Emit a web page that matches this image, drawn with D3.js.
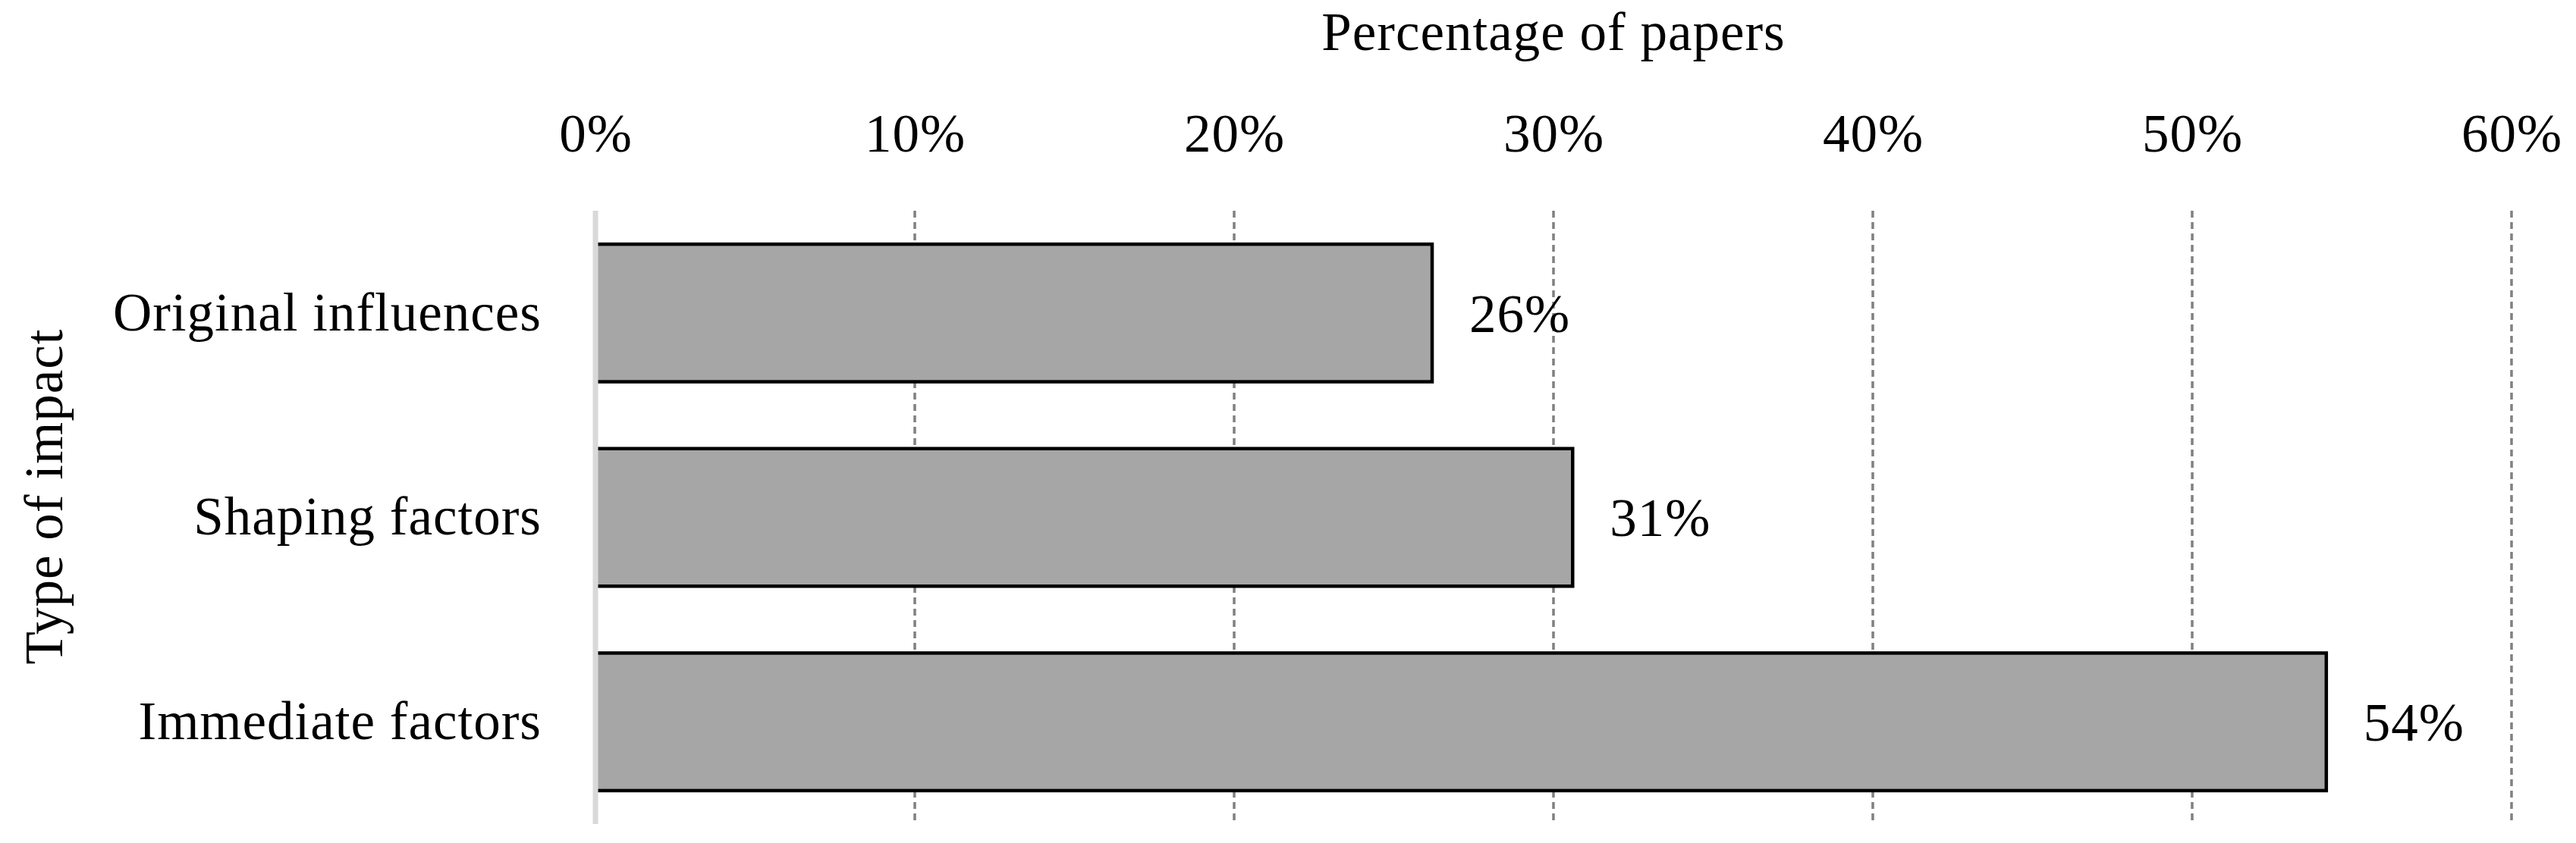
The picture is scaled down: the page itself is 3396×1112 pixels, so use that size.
<!DOCTYPE html>
<html>
<head>
<meta charset="utf-8">
<script src="https://cdn.jsdelivr.net/npm/d3@7"></script>
<style>
  html, body { margin: 0; padding: 0; background: #fff; }
  svg text { font-family: "Liberation Serif", "DejaVu Serif", serif; fill: #000; letter-spacing: 1px; }
</style>
</head>
<body>
<svg id="chart" width="3396" height="1112"></svg>
<script>
const categories = ["Original influences", "Shaping factors", "Immediate factors"];
const values = [26.2, 30.6, 54.2];
const xTicks = [0, 10, 20, 30, 40, 50, 60];
const xTitle = "Percentage of papers";
const yTitle = "Type of impact";

const svg = d3.select("#chart");
const pLeft = 785, pRight = 3311, pTop = 278, pBottom = 1087;

const x = d3.scaleLinear().domain([0, 60]).range([pLeft, pRight]);
const y = d3.scaleBand().domain(categories).range([pTop, pBottom])
  .paddingInner(0.327).paddingOuter(0.1635);

const fs = 71;

// gridlines
svg.append("g").selectAll("line").data(xTicks.filter(d => d > 0)).join("line")
  .attr("x1", d => x(d)).attr("x2", d => x(d))
  .attr("y1", pTop).attr("y2", pBottom)
  .attr("stroke", "#808080").attr("stroke-width", 3.5)
  .attr("stroke-dasharray", "9,6");

// top axis tick labels
const xAxis = d3.axisTop(x).tickValues(xTicks).tickFormat(d => d + "%").tickSize(0).tickPadding(0);
const gx = svg.append("g").attr("transform", `translate(0,200)`).call(xAxis);
gx.select(".domain").remove();
gx.selectAll("text").attr("font-size", fs).attr("font-family", "Liberation Serif").attr("fill", "#000").attr("dy", 0);

// bars
svg.append("g").selectAll("rect").data(values).join("rect")
  .attr("x", x(0))
  .attr("y", (d, i) => y(categories[i]))
  .attr("width", d => x(d) - x(0))
  .attr("height", y.bandwidth())
  .attr("fill", "#a6a6a6")
  .attr("stroke", "#000").attr("stroke-width", 4.5);

// vertical axis line
svg.append("line")
  .attr("x1", x(0)).attr("x2", x(0))
  .attr("y1", pTop).attr("y2", pBottom)
  .attr("stroke", "#d9d9d9").attr("stroke-width", 7);

// y category labels
const yAxis = d3.axisLeft(y).tickSize(0).tickPadding(71);
const gy = svg.append("g").attr("transform", `translate(${x(0)},0)`).call(yAxis);
gy.select(".domain").remove();
gy.selectAll("text").attr("font-size", fs).attr("font-family", "Liberation Serif").attr("fill", "#000");

// value labels
const fmt = d3.format(".0f");
svg.append("g").selectAll("text").data(values).join("text")
  .attr("x", d => x(d) + 49)
  .attr("y", (d, i) => y(categories[i]) + y.bandwidth() / 2)
  .attr("dy", "0.35em")
  .attr("font-size", fs)
  .text(d => fmt(d) + "%");

// titles
svg.append("text")
  .attr("x", (pLeft + pRight) / 2).attr("y", 66)
  .attr("text-anchor", "middle").attr("font-size", fs)
  .text(xTitle);

svg.append("text")
  .attr("transform", `translate(82,655) rotate(-90)`)
  .attr("text-anchor", "middle").attr("font-size", fs)
  .text(yTitle);
</script>
</body>
</html>
